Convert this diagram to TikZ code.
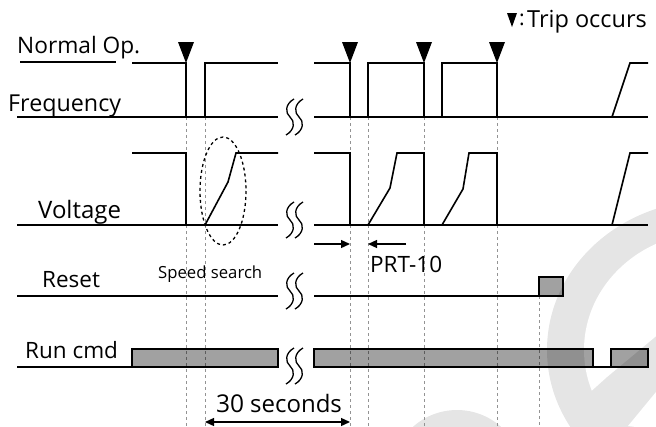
\documentclass[tikz,border=0pt]{standalone}
\usepackage{fontspec}
\setmainfont{Open Sans}
\usetikzlibrary{arrows.meta}
\begin{document}
\begin{tikzpicture}[x=1pt,y=-1pt,
  sig/.style={line width=1.6pt, line join=miter},
  guide/.style={gray!85, line width=1pt, dash pattern=on 3pt off 3pt},
  barbox/.style={fill=black, fill opacity=0.37, draw=black, draw opacity=1, line width=1.6pt},
  lbl/.style={font=\fontsize{22.5}{22.5}\selectfont, inner sep=0pt, anchor=base west},
  small/.style={font=\fontsize{16.7}{16.7}\selectfont, inner sep=0pt, anchor=base west},
  tripmark/.style={fill=black, draw=none},
  brk/.style={line width=1.3pt},
  dimline/.style={line width=1.3pt, -{Triangle[length=9pt,width=8pt]}},
  wm/.style={fill=gray!20, draw=none}]
\useasboundingbox (0,0) rectangle (656,426);
% watermark
\begin{scope}
  \clip (0,0) rectangle (656,426);
  \fill[wm] (712,350) ellipse [x radius=165, y radius=150];
  \begin{scope}
    \clip (480,150) -- (720,150) -- (720,283) -- (607,377) -- (480,491) -- cycle;
    \fill[white] (712,350) ellipse [x radius=128, y radius=118];
  \end{scope}
  \fill[white] (628,426) -- (656,392) -- (660,430) -- cycle;
  \fill[wm] (457,476) circle (66);
\end{scope}
% guide lines
\draw[guide] (186,117) -- (186,426);
\draw[guide] (205,117) -- (205,426);
\draw[guide] (350,117) -- (350,426);
\draw[guide] (368,117) -- (368,426);
\draw[guide] (424,117) -- (424,426);
\draw[guide] (497,117) -- (497,426);
\draw[guide] (539,296) -- (539,426);
% speed search ellipse
\draw[line width=1.3pt, dash pattern=on 3pt off 3pt] (223,191) ellipse [x radius=23, y radius=54];
% labels
\node[lbl, font=\fontsize{22.7}{22.7}\selectfont] (normal) at (17,53) {Normal Op.};
\draw[line width=1.3pt] (20,62) -- (116,62);
\node[lbl, font=\fontsize{23.3}{23.3}\selectfont] (freq) at (8,111) {Frequency};
\node[lbl, font=\fontsize{24}{24}\selectfont] (volt) at (38,218) {Voltage};
\node[lbl] (reset) at (42,287) {Reset};
\node[lbl] (run) at (25,358) {Run cmd};
\node[small] (ss) at (158,278) {Speed search};
\node[lbl] (prt) at (370,272) {PRT-10};
\node[lbl, font=\fontsize{24.5}{24.5}\selectfont] (thirty) at (216,412) {30};
\node[lbl, font=\fontsize{24}{24}\selectfont] (secs) at (250,412) {seconds};
\node[lbl, font=\fontsize{21}{21}\selectfont] (colon) at (519,25) {:};
\node[lbl, font=\fontsize{23.5}{23.5}\selectfont] (trip) at (527,27) {Trip occurs};
\fill[tripmark] (507,13) -- (517,13) -- (512,27) -- cycle;
% frequency
\draw[sig] (17,117) -- (278,117);
\draw[sig] (132,63) -- (186,63) -- (186,117);
\draw[sig] (205,117) -- (205,63) -- (278,63);
\draw[sig] (314,117) -- (648,117);
\draw[sig] (314,63) -- (350,63) -- (350,117);
\draw[sig] (368,117) -- (368,63) -- (424,63) -- (424,117);
\draw[sig] (442,117) -- (442,63) -- (497,63) -- (497,117);
\draw[sig] (612,117) -- (630,63) -- (648,63);
% voltage
\draw[sig] (17,225) -- (278,225);
\draw[sig] (132,153) -- (186,153) -- (186,225);
\draw[sig] (205,225) -- (228,182) -- (236,153) -- (278,153);
\draw[sig] (314,225) -- (648,225);
\draw[sig] (314,153) -- (350,153) -- (350,225);
\draw[sig] (368,225) -- (390,188) -- (397,153) -- (424,153) -- (424,225);
\draw[sig] (442,225) -- (463,189) -- (469,153) -- (497,153) -- (497,225);
\draw[sig] (612,225) -- (630,153) -- (648,153);
% reset
\draw[sig] (17,296) -- (278,296);
\draw[sig] (314,296) -- (539,296);
\draw[barbox] (539,277) rectangle (563,296);
% run cmd
\draw[sig] (17,367) -- (132,367);
\draw[barbox] (132,349) rectangle (278,367);
\draw[barbox] (314,349) rectangle (593,367);
\draw[line width=1.3pt] (593,367) -- (611,367);
\draw[barbox] (611,349) rectangle (648,367);
% trip markers
\foreach \tx in {186,350,424,497}
  \fill[tripmark] (\tx-8,42) -- (\tx+8,42) -- (\tx,63) -- cycle;
% break marks
\foreach \by in {117,220,291,366}{
  \foreach \bx in {290,299}{
    \draw[brk] (\bx+4,\by-18) .. controls (\bx-5,\by-13) and (\bx-5,\by-4) .. (\bx,\by)
      .. controls (\bx+5,\by+4) and (\bx+5,\by+13) .. (\bx-4,\by+18);
  }
}
% PRT-10 arrows
\coordinate (p1) at (314,244);
\coordinate (p2) at (406,244);
\draw[dimline] (p1) -- (350,244);
\draw[dimline] (p2) -- (368,244);
% 30 seconds arrow
\draw[line width=1.3pt, {Triangle[length=9pt,width=8pt]}-{Triangle[length=9pt,width=8pt]}] (205,422) -- (350,422);
\end{tikzpicture}
\end{document}
